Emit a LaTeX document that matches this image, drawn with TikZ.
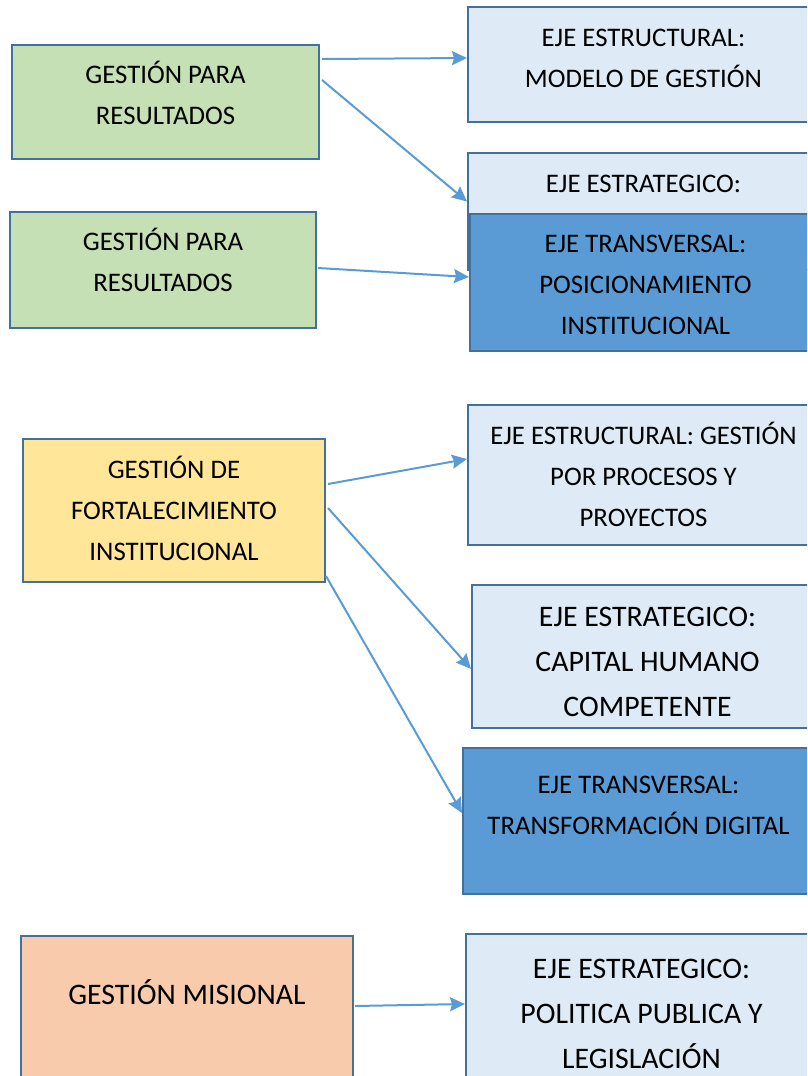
\documentclass[tikz,border=0pt]{standalone}
\usepackage{fontspec}
\setmainfont{Carlito}
\usetikzlibrary{arrows.meta}
\definecolor{boxline}{HTML}{41719C}
\definecolor{linkblue}{HTML}{5B9BD5}
\definecolor{ejelight}{HTML}{DEEBF7}
\definecolor{ejedark}{HTML}{5B9BD5}
\definecolor{gestgreen}{HTML}{C5E0B4}
\definecolor{gestyellow}{HTML}{FFE699}
\definecolor{gestsalmon}{HTML}{F8CBAD}
\newcommand{\boxlines}[2]{\raisebox{#1}[0pt][0pt]{\begin{tabular}{@{}c@{}}#2\end{tabular}}}

\begin{document}
\begin{tikzpicture}[x=1pt, y=-1pt,
		box/.style={draw=boxline, line width=2pt, anchor=north west, inner sep=0pt,
			font=\fontsize{26.8}{41}\selectfont},
		bigtext/.style={font=\fontsize{29.8}{45}\selectfont},
		gestion/.style={box, fill=#1},
		ejelightbox/.style={box, fill=ejelight, minimum width=351pt},
		ejedarkbox/.style={box, fill=ejedark, minimum width=351pt},
		link/.style={draw=linkblue, line width=2pt, -{Stealth[length=15pt,width=14pt,inset=2pt]}}]
		\clip (0,0) rectangle (807,1076);
		
		% Gestion boxes
		\node[gestion=gestgreen, minimum width=307pt, minimum height=114pt] (res1) at (11,44)
			{\boxlines{-0.5pt}{GESTIÓN PARA\\RESULTADOS}};
		\node[gestion=gestgreen, minimum width=306pt, minimum height=116pt] (res2) at (9,211)
			{\boxlines{0.5pt}{GESTIÓN PARA\\RESULTADOS}};
		\node[gestion=gestyellow, minimum width=302pt, minimum height=143pt] (fort) at (22,438)
			{\boxlines{-7.5pt}{GESTIÓN DE\\FORTALECIMIENTO\\INSTITUCIONAL}};
		\node[gestion=gestsalmon, bigtext, minimum width=332pt, minimum height=160pt] (misional) at (20,935)
			{\boxlines{14.75pt}{GESTIÓN MISIONAL}};
		
		% Eje boxes
		\node[ejelightbox, minimum height=115pt] (modelo) at (467,6)
			{\boxlines{-0.5pt}{EJE ESTRUCTURAL:\\MODELO DE GESTIÓN}};
		\node[ejelightbox, minimum height=117pt] (estrat) at (467,152)
			{\boxlines{20.5pt}{EJE ESTRATEGICO:}};
		\node[ejedarkbox, minimum height=137pt] (posic) at (469,213)
			{\boxlines{-9.5pt}{EJE TRANSVERSAL:\\POSICIONAMIENTO\\INSTITUCIONAL}};
		\node[ejelightbox, minimum height=140pt] (procesos) at (467,404)
			{\boxlines{-8.5pt}{EJE ESTRUCTURAL: GESTIÓN\\POR PROCESOS Y\\PROYECTOS}};
		\node[ejelightbox, bigtext, minimum height=143pt] (capital) at (471,584)
			{\boxlines{-12.25pt}{EJE ESTRATEGICO:\\CAPITAL HUMANO\\COMPETENTE}};
		\node[ejedarkbox, minimum height=146pt] (digital) at (462,747)
			{\boxlines{8.5pt}{EJE TRANSVERSAL:\\TRANSFORMACIÓN DIGITAL}};
		\node[ejelightbox, bigtext, minimum height=160pt] (politica) at (465,933)
			{\boxlines{-6.25pt}{EJE ESTRATEGICO:\\POLITICA PUBLICA Y\\LEGISLACIÓN}};
		
		% Connect the boxes
		\draw[link] ([shift={(2pt,43pt)}]res1.east) -- ([yshift=6.5pt]modelo.west);
		\draw[link] ([shift={(2pt,22pt)}]res1.east) -- ([yshift=10pt]estrat.west);
		\draw[link] ([shift={(1pt,2pt)}]res2.east) -- ([yshift=5.5pt]posic.west);
		\draw[link] ([shift={(2pt,26.5pt)}]fort.east) -- ([yshift=16pt]procesos.west);
		\draw[link] ([shift={(2pt,2.5pt)}]fort.east) -- ([yshift=-12.5pt]capital.west);
		\draw[link] ([yshift=-65.5pt]fort.east) -- ([yshift=8pt]digital.west);
		\draw[link] ([shift={(1pt,10pt)}]misional.east) -- ([yshift=10pt]politica.west);
	\end{tikzpicture}
\end{document}
